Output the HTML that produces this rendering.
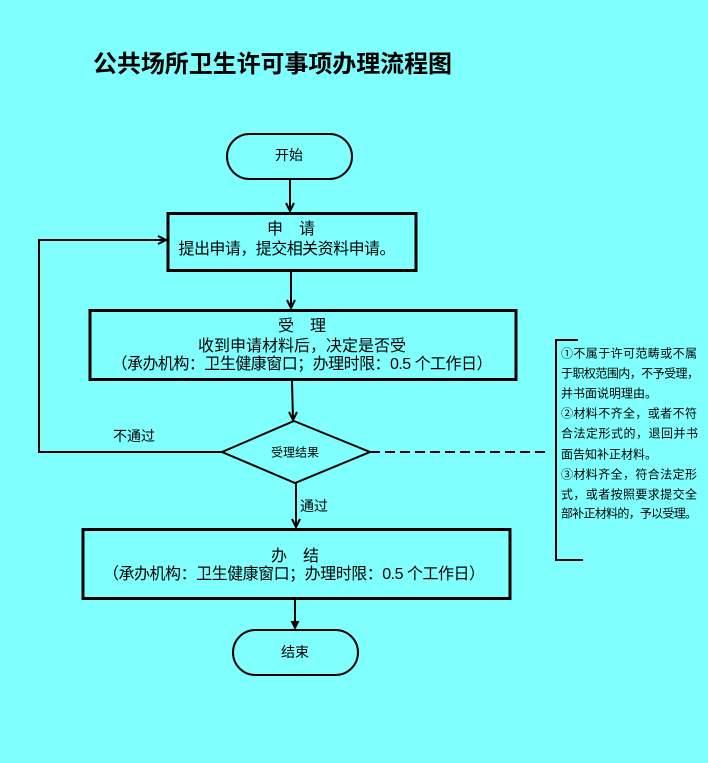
<!DOCTYPE html>
<html>
<head>
<meta charset="utf-8">
<style>
html,body{margin:0;padding:0;background:#80FFFF;}
svg{display:block;}
text{font-family:"Liberation Sans","Noto Sans CJK SC",sans-serif;fill:#000;}
</style>
</head>
<body>
<svg width="708" height="763" viewBox="0 0 708 763" xmlns="http://www.w3.org/2000/svg">
<rect x="0" y="0" width="708" height="763" fill="#80FFFF"/>

<!-- Title -->
<text x="93" y="72" font-size="24" font-weight="bold" textLength="359" lengthAdjust="spacing">公共场所卫生许可事项办理流程图</text>

<!-- Start oval -->
<rect x="227" y="134" width="125" height="45" rx="22.5" ry="22.5" fill="none" stroke="#000" stroke-width="2"/>
<text x="289" y="160" font-size="14" text-anchor="middle">开始</text>

<!-- arrow start -> apply -->
<line x1="290" y1="179" x2="290" y2="211" stroke="#000" stroke-width="2"/>
<polyline points="286,203 290,211 294,203" fill="none" stroke="#000" stroke-width="2"/>

<!-- Apply box -->
<rect x="168" y="213.5" width="248" height="57" fill="none" stroke="#000" stroke-width="3"/>
<text x="291" y="234" font-size="16" text-anchor="middle">申　请</text>
<text x="287" y="254" font-size="16" text-anchor="middle" textLength="217" lengthAdjust="spacing">提出申请，提交相关资料申请。</text>

<!-- arrow apply -> accept -->
<line x1="291" y1="272" x2="291" y2="308" stroke="#000" stroke-width="2"/>
<polyline points="287,300 291,308 295,300" fill="none" stroke="#000" stroke-width="2"/>

<!-- Accept box -->
<rect x="90" y="310.5" width="426" height="69" fill="none" stroke="#000" stroke-width="3"/>
<text x="302" y="331" font-size="16" text-anchor="middle">受　理</text>
<text x="302" y="351" font-size="16" text-anchor="middle" textLength="208" lengthAdjust="spacing">收到申请材料后，决定是否受</text>
<text x="302" y="369" font-size="16" text-anchor="middle" textLength="381" lengthAdjust="spacing">（承办机构：卫生健康窗口；办理时限：0.5 个工作日）</text>

<!-- arrow accept -> diamond -->
<line x1="292" y1="381" x2="293" y2="420" stroke="#000" stroke-width="2"/>
<polyline points="289,412 293,420 297,412" fill="none" stroke="#000" stroke-width="2"/>

<!-- Diamond -->
<polygon points="294,421 370,452 295,483 222,452" fill="none" stroke="#000" stroke-width="2"/>
<text x="295" y="456.5" font-size="12" text-anchor="middle">受理结果</text>

<!-- feedback loop -->
<polyline points="222,452 39,452 39,240 166,240" fill="none" stroke="#000" stroke-width="2"/>
<polyline points="158,236 166,240 158,244" fill="none" stroke="#000" stroke-width="2"/>
<text x="113" y="441" font-size="14">不通过</text>

<!-- dashed line -->
<line x1="370" y1="452" x2="547" y2="452" stroke="#000" stroke-width="2" stroke-dasharray="10,5"/>

<!-- bracket -->
<polyline points="578,340 556,340 556,560 583,560" fill="none" stroke="#000" stroke-width="2"/>
<g font-size="12">
<text x="561" y="357.5" textLength="136" lengthAdjust="spacing">①不属于许可范畴或不属</text>
<text x="561" y="377.5" textLength="138" lengthAdjust="spacing">于职权范围内，不予受理，</text>
<text x="561" y="397.5">并书面说明理由。</text>
<text x="561" y="417.5" textLength="136" lengthAdjust="spacing">②材料不齐全，或者不符</text>
<text x="561" y="437.5" textLength="137" lengthAdjust="spacing">合法定形式的，退回并书</text>
<text x="561" y="458.5">面告知补正材料。</text>
<text x="561" y="478.5" textLength="136" lengthAdjust="spacing">③材料齐全，符合法定形</text>
<text x="561" y="498.5" textLength="136" lengthAdjust="spacing">式，或者按照要求提交全</text>
<text x="561" y="517.5" textLength="136" lengthAdjust="spacing">部补正材料的，予以受理。</text>
</g>

<!-- arrow diamond -> finish -->
<line x1="296" y1="483" x2="296" y2="527" stroke="#000" stroke-width="2"/>
<polyline points="292,519 296,527 300,519" fill="none" stroke="#000" stroke-width="2"/>
<text x="300" y="511" font-size="14">通过</text>

<!-- Finish box -->
<rect x="83" y="529.5" width="427" height="69" fill="none" stroke="#000" stroke-width="3"/>
<text x="295" y="561" font-size="16" text-anchor="middle">办　结</text>
<text x="294" y="579" font-size="16" text-anchor="middle" textLength="382" lengthAdjust="spacing">（承办机构：卫生健康窗口；办理时限：0.5 个工作日）</text>

<!-- arrow finish -> end -->
<line x1="295" y1="600" x2="295" y2="622" stroke="#000" stroke-width="2"/>
<polygon points="290.5,621 299.5,621 295,630" fill="#000"/>

<!-- End oval -->
<rect x="233" y="630" width="125" height="45" rx="22.5" ry="22.5" fill="none" stroke="#000" stroke-width="2"/>
<text x="295" y="657" font-size="14" text-anchor="middle">结束</text>
</svg>
</body>
</html>
